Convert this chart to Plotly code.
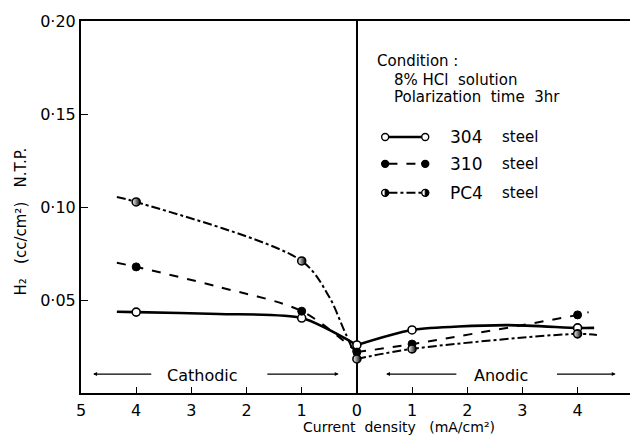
import plotly.graph_objects as go

# ---- data ----
# x: negative = cathodic current density, positive = anodic (mA/cm2)
marker_x = [-4, -1, 0, 1, 4]
h2_304 = [0.0435, 0.0403, 0.0258, 0.0339, 0.0350]
h2_310 = [0.0678, 0.0440, 0.0220, 0.0263, 0.0420]
h2_pc4 = [0.1027, 0.0710, 0.0183, 0.0237, 0.0318]

# smooth hand-drawn curves (cathodic branch and anodic branch)
c304_cat_x = [-4.35, -4, -2.5, -1, 0]
c304_cat_y = [0.0437, 0.0435, 0.0425, 0.0403, 0.0258]
c304_an_x = [0, 1, 2.7, 4, 4.3]
c304_an_y = [0.0258, 0.0339, 0.0365, 0.0350, 0.0350]

c310_cat_x = [-4.35, -4, -2.5, -1, 0]
c310_cat_y = [0.0700, 0.0678, 0.0570, 0.0440, 0.0220]
c310_an_x = [0, 1, 4, 4.2]
c310_an_y = [0.0220, 0.0263, 0.0420, 0.0435]

cpc4_cat_x = [-4.35, -4, -1, -0.5, -0.25, 0]
cpc4_cat_y = [0.1054, 0.1027, 0.0710, 0.0516, 0.0350, 0.0183]
cpc4_an_x = [0, 1, 4, 4.35]
cpc4_an_y = [0.0183, 0.0237, 0.0318, 0.0312]

x_tickvals = [-5, -4, -3, -2, -1, 0, 1, 2, 3, 4]
x_ticktext = ["5", "4", "3", "2", "1", "0", "1", "2", "3", "4"]
y_tickvals = [0.05, 0.10, 0.15, 0.20]
y_ticktext = ["0·05", "0·10", "0·15", "0·20"]

FONT = "DejaVu Sans"
BLACK = "black"

fig = go.Figure()

series = [
    ("304 steel", h2_304, [(c304_cat_x, c304_cat_y), (c304_an_x, c304_an_y)], "solid", 2.6, 0.7,
     dict(symbol="circle", color="white", size=8, line=dict(color=BLACK, width=1.6))),
    ("310 steel", h2_310, [(c310_cat_x, c310_cat_y), (c310_an_x, c310_an_y)], "dash", 2.0, 0.9,
     dict(symbol="circle", color=BLACK, size=8, line=dict(color=BLACK, width=1))),
    ("PC4 steel", h2_pc4, [(cpc4_cat_x, cpc4_cat_y), (cpc4_an_x, cpc4_an_y)], "dashdot", 2.0, 0.9,
     dict(symbol="circle", color="white", size=8, line=dict(color=BLACK, width=1.6),
          gradient=dict(type="horizontal", color=BLACK))),
]

for name, ys, curves, dash, lw, sm, mk in series:
    for cx, cy in curves:
        fig.add_trace(go.Scatter(x=cx, y=cy, mode="lines", line=dict(color=BLACK, width=lw, dash=dash,
                                 shape="spline", smoothing=sm), showlegend=False, hoverinfo="skip"))
    fig.add_trace(go.Scatter(x=marker_x, y=ys, mode="markers", marker=mk, name=name, showlegend=False))

# ---- legend drawn as decorations (paper coords) ----
shapes = []
annotations = []
leg_rows = [(0.688, "solid", 2.6, "open", "304"), (0.616, "dash", 2.0, "full", "310"),
            (0.538, "dashdot", 2.0, "half", "PC4")]
for yy, dash, lw, kind, lab in leg_rows:
    shapes.append(dict(type="line", xref="paper", yref="paper", x0=0.560, x1=0.621, y0=yy, y1=yy,
                       line=dict(color=BLACK, width=lw, dash=dash)))
    for xx in (0.554, 0.627):
        fill = "white" if kind != "full" else BLACK
        shapes.append(dict(type="circle", xref="paper", yref="paper", xsizemode="pixel", ysizemode="pixel",
                           xanchor=xx, yanchor=yy, x0=-3.5, x1=3.5, y0=-3.5, y1=3.5,
                           fillcolor=fill, line=dict(color=BLACK, width=1.4)))
        if kind == "half":
            shapes.append(dict(type="path", xref="paper", yref="paper", xsizemode="pixel", ysizemode="pixel",
                               xanchor=xx, yanchor=yy, path="M0,-3.5 C4.7,-3.5 4.7,3.5 0,3.5 Z",
                               fillcolor=BLACK, line=dict(color=BLACK, width=1)))
    annotations.append(dict(xref="paper", yref="paper", x=0.668, y=yy, text=lab, showarrow=False,
                            xanchor="left", yanchor="middle", font=dict(size=17, family=FONT, color=BLACK)))
    annotations.append(dict(xref="paper", yref="paper", x=0.763, y=yy, text="steel", showarrow=False,
                            xanchor="left", yanchor="middle", font=dict(size=15, family=FONT, color=BLACK)))

cond_lines = [(0.536, 0.892, "Condition :"), (0.566, 0.841, "8% HCl  solution"),
              (0.566, 0.796, "Polarization  time  3hr")]
for xx, yy, t in cond_lines:
    annotations.append(dict(xref="paper", yref="paper", x=xx, y=yy, text=t, showarrow=False,
                            xanchor="left", yanchor="middle", font=dict(size=15, family=FONT, color=BLACK)))

# Cathodic / Anodic region markers
arrow_y = 0.0102
for x_tail, x_head in [(-3.70, -4.78), (-1.65, -0.33), (1.83, 0.53), (3.60, 4.69)]:
    annotations.append(dict(xref="x", yref="y", axref="x", ayref="y", x=x_head, y=arrow_y,
                            ax=x_tail, ay=arrow_y, showarrow=True, arrowhead=2, arrowsize=0.6,
                            arrowwidth=1.3, arrowcolor=BLACK, text=""))
annotations.append(dict(xref="x", yref="y", x=-2.79, y=0.0095, text="Cathodic", showarrow=False,
                        font=dict(size=16, family=FONT, color=BLACK)))
annotations.append(dict(xref="x", yref="y", x=2.61, y=0.0095, text="Anodic", showarrow=False,
                        font=dict(size=16, family=FONT, color=BLACK)))

# the partly visible "5" at the right end of the x axis
annotations.append(dict(xref="x", yref="paper", x=5.0, y=0, yshift=-4, text="5", showarrow=False,
                        yanchor="top", font=dict(size=16, family=FONT, color=BLACK)))

# axis titles
annotations.append(dict(xref="paper", yref="paper", x=0.58, y=-0.118, text="Current  density   (mA/cm²)",
                        showarrow=False, yanchor="bottom", font=dict(size=14, family=FONT, color=BLACK)))
annotations.append(dict(xref="paper", yref="paper", x=-0.11, y=0.46, xanchor="center",
                        text="H₂   (cc/cm²)   N.T.P.", textangle=-90, showarrow=False,
                        font=dict(size=15, family=FONT, color=BLACK)))

fig.update_layout(
    width=630, height=437,
    margin=dict(l=81, r=0, t=21, b=44),
    paper_bgcolor="white", plot_bgcolor="white",
    showlegend=False,
    font=dict(family=FONT, color=BLACK),
    shapes=shapes, annotations=annotations,
    xaxis=dict(range=[-5, 4.95], tickvals=x_tickvals, ticktext=x_ticktext, ticks="inside", ticklen=6,
               tickwidth=1.3, tickcolor=BLACK, showline=True, linecolor=BLACK, linewidth=2, mirror=True,
               showgrid=False, zeroline=True, zerolinecolor=BLACK, zerolinewidth=1.6,
               ticklabelstandoff=2,
               tickfont=dict(size=16, family=FONT, color=BLACK)),
    yaxis=dict(range=[0, 0.2], tickvals=y_tickvals, ticktext=y_ticktext, ticks="inside", ticklen=7,
               tickwidth=1.3, tickcolor=BLACK, showline=True, linecolor=BLACK, linewidth=2,
               showgrid=False, zeroline=False, tickfont=dict(size=16, family=FONT, color=BLACK)),
)

fig.write_html("out.html")
